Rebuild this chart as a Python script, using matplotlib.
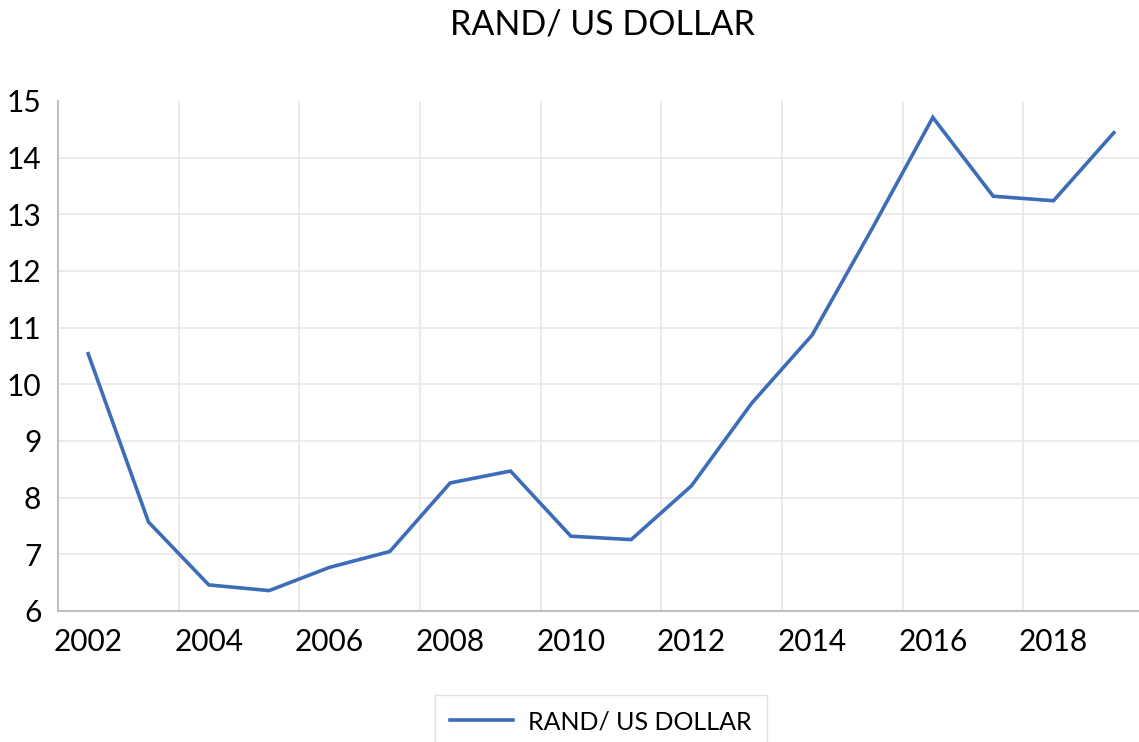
import matplotlib
matplotlib.use("Agg")
import matplotlib.pyplot as plt

plt.rcParams['font.family'] = ['Lato', 'DejaVu Sans']

years = list(range(2002, 2020))
rand_usd = [10.54, 7.57, 6.46, 6.36, 6.77, 7.05, 8.26, 8.47, 7.32, 7.26,
            8.21, 9.67, 10.87, 12.76, 14.71, 13.32, 13.24, 14.44]
y_ticks = [6, 7, 8, 9, 10, 11, 12, 13, 14, 15]
x_labels = ["2002", "2004", "2006", "2008", "2010", "2012", "2014", "2016", "2018"]

W, H = 1139, 742
fig = plt.figure(figsize=(W / 100, H / 100), dpi=100)
ax = fig.add_axes([58 / W, 131 / H, (1144 - 58) / W, 510 / H])

idx = list(range(len(years)))
line, = ax.plot(idx, rand_usd, color="#3D6DB8", linewidth=2.6,
                solid_joinstyle="miter", label="RAND/ US DOLLAR")

ax.set_xlim(-0.5, len(years) - 0.5)
ax.set_ylim(6, 15)
ax.set_yticks(y_ticks)
ax.set_yticklabels([str(v) for v in y_ticks])
ax.set_xticks(idx[::2])
ax.set_xticklabels(x_labels)
ax.tick_params(axis="both", length=0, labelsize=21.5, colors="black")
ax.tick_params(axis="y", pad=12)
ax.tick_params(axis="x", pad=12)

# horizontal grid (top edge left open) and vertical grid between category pairs
for v in y_ticks[1:-1]:
    ax.axhline(v, color="#E8E8E8", linewidth=1.2, zorder=0)
for b in range(1, len(years), 2):
    ax.axvline(b + 0.5, color="#E8E8E8", linewidth=1.2, zorder=0)

for s in ["top", "right"]:
    ax.spines[s].set_visible(False)
for s in ["left", "bottom"]:
    ax.spines[s].set_color("#BFBFBF")
    ax.spines[s].set_linewidth(1.5)

fig.text(602 / W, 1 - 25 / H, "RAND/ US DOLLAR", ha="center", va="center",
         fontsize=24.5, color="black")

leg = fig.legend(handles=[line], loc="upper center",
                 bbox_to_anchor=(601 / W, 1 - 695 / H), fontsize=18,
                 frameon=True, fancybox=False, handlelength=2.5,
                 handletextpad=0.6, borderpad=0.6, borderaxespad=0)
leg.get_frame().set_edgecolor("#D9D9D9")
leg.get_frame().set_linewidth(1.0)

fig.savefig("out.png", dpi=100)
